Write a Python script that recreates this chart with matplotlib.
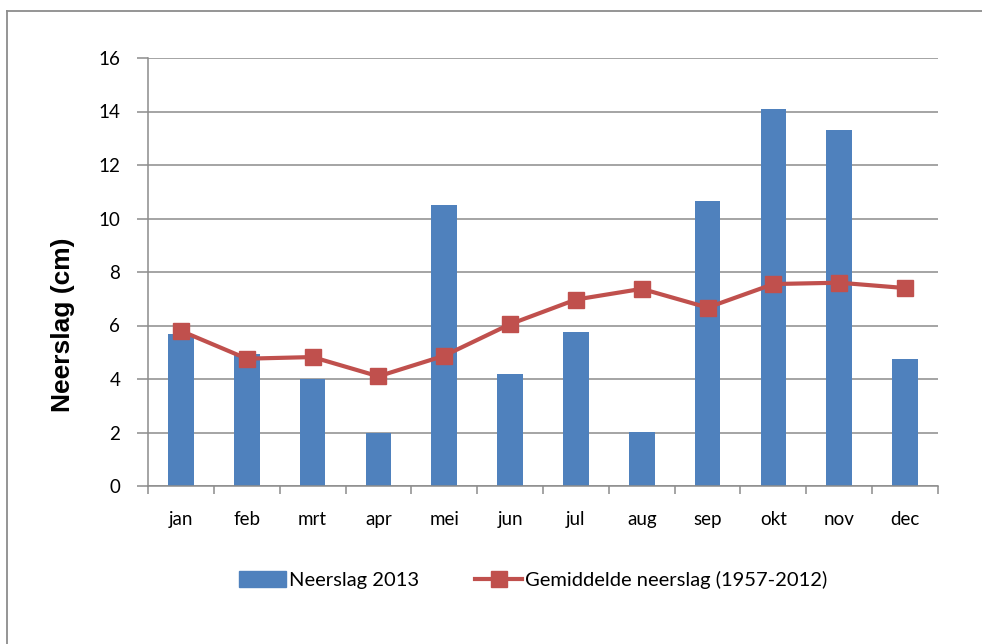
import matplotlib
matplotlib.use("Agg")
import matplotlib.pyplot as plt
import numpy as np
from matplotlib.lines import Line2D

months = ["jan", "feb", "mrt", "apr", "mei", "jun", "jul", "aug", "sep", "okt", "nov", "dec"]
neerslag_2013 = [5.7, 4.95, 4.0, 2.0, 10.5, 4.2, 5.75, 2.02, 10.67, 14.08, 13.32, 4.75]
gemiddelde = [5.8, 4.76, 4.82, 4.1, 4.87, 6.05, 6.97, 7.37, 6.67, 7.55, 7.6, 7.4]
yticks = [0, 2, 4, 6, 8, 10, 12, 14, 16]

W, H = 982, 644
fig = plt.figure(figsize=(W / 100, H / 100), dpi=100)
fig.patch.set_facecolor("white")

ax = fig.add_axes([148 / W, 1 - 486 / H, (938 - 148) / W, (486 - 58) / H])

FONT = "Lato"
FS = 13.5

x = np.arange(len(months))
ax.bar(x, neerslag_2013, width=0.39, color="#4F81BD", zorder=2, label="Neerslag 2013")
ax.plot(x, gemiddelde, color="#C0504D", lw=3, marker="s", markersize=11.5,
        markerfacecolor="#C0504D", markeredgecolor="#C0504D", zorder=3,
        label="Gemiddelde neerslag (1957-2012)")

ax.set_xlim(-0.5, len(months) - 0.5)
ax.set_ylim(0, 16)
ax.set_yticks(yticks)
ax.set_yticklabels([str(v) for v in yticks], fontsize=FS, family=FONT)
ax.yaxis.grid(True, color="#8c8c8c", lw=1.1, zorder=0)
ax.set_axisbelow(True)

ax.set_xticks(x)
ax.set_xticklabels(months, fontsize=FS, family=FONT)
ax.set_xticks(np.arange(-0.5, len(months)), minor=True)
ax.tick_params(axis="x", which="major", length=0, pad=18)
ax.tick_params(axis="x", which="minor", length=6, color="#8c8c8c", width=1.1)
ax.tick_params(axis="y", length=8, color="#8c8c8c", width=1.1, pad=12)

for side in ["top", "right"]:
    ax.spines[side].set_visible(False)
for side in ["left", "bottom"]:
    ax.spines[side].set_color("#8c8c8c")
    ax.spines[side].set_linewidth(1.1)

fig.text(63 / W, 1 - 325 / H, "Neerslag (cm)", rotation=90, ha="center", va="center",
         fontsize=19, fontweight="bold", family="Liberation Sans")

handles = [
    plt.Rectangle((0, 0), 1, 1, color="#4F81BD"),
    Line2D([0], [0], color="#C0504D", lw=3, marker="s", markersize=11.5),
]
fig.legend(handles, ["Neerslag 2013", "Gemiddelde neerslag (1957-2012)"],
           loc="center", bbox_to_anchor=(533 / W, 1 - 580 / H), ncol=2, frameon=False,
           prop={"family": FONT, "size": 14.5}, handlelength=2.33, handleheight=0.8,
           handletextpad=0.15, columnspacing=2.8)

# outer chart border (left and top visible)
fig.add_artist(Line2D([6.5 / W, 6.5 / W], [0, 1 - 11 / H], transform=fig.transFigure,
                      color="#8c8c8c", lw=1.3))
fig.add_artist(Line2D([6.5 / W, 1], [1 - 11 / H, 1 - 11 / H], transform=fig.transFigure,
                      color="#8c8c8c", lw=1.3))

fig.savefig("out.png", dpi=100, facecolor="white")
